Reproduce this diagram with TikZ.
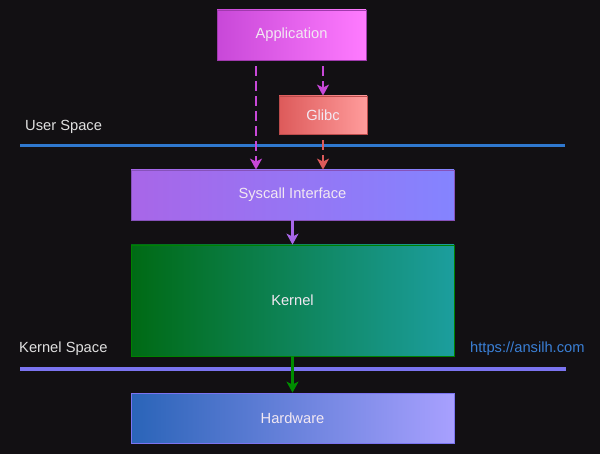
\documentclass[tikz,border=0pt]{standalone}
\usepackage{fontspec}
\setmainfont{Liberation Sans}
\usetikzlibrary{arrows.meta}
\definecolor{bg}{HTML}{121013}
\definecolor{appL}{HTML}{C848D8}
\definecolor{appR}{HTML}{FF7BFF}
\definecolor{glL}{HTML}{DD5A5A}
\definecolor{glR}{HTML}{FF9C9C}
\definecolor{syL}{HTML}{A866E8}
\definecolor{syR}{HTML}{8484FF}
\definecolor{keL}{HTML}{006A14}
\definecolor{keR}{HTML}{1C9E9E}
\definecolor{hwL}{HTML}{2A64B8}
\definecolor{hwR}{HTML}{A8A0FF}
\definecolor{userline}{HTML}{2F78CF}
\definecolor{kernline}{HTML}{7B74F0}
\definecolor{linkc}{HTML}{3A7FD5}
\definecolor{txt}{HTML}{F2E8F2}
\definecolor{lbl}{HTML}{E0E0E0}
\tikzset{
  boxnode/.style={minimum width=#1, inner sep=0pt, text=txt, font=\fontsize{14.7}{17}\selectfont, line width=0.8pt},
  flow/.style={line width=2.2pt, -{Stealth[length=11pt,width=12pt,inset=3pt]}},
  dashflow/.style={flow, dash pattern=on 10pt off 5pt},
  lbltext/.style={text=lbl, font=\fontsize{14.7}{17}\selectfont, inner sep=0pt, anchor=west}
}
\begin{document}
\begin{tikzpicture}[x=1pt,y=-1pt]
\fill[bg] (0,0) rectangle (600,454);
\useasboundingbox (0,0) rectangle (600,454);
% boxes
\node[boxnode=149pt, minimum height=50pt, left color=appL, right color=appR, draw=appL!80!black] (app) at (291.5,35) {Application};
\node[boxnode=88pt, minimum height=38pt, left color=glL, right color=glR, draw=glL!85!black] (glibc) at (323,115) {Glibc};
\node[boxnode=323pt, minimum height=50pt, left color=syL, right color=syR, draw=syL!80!black] (sys) at (292.5,195) {Syscall Interface};
\node[boxnode=323pt, minimum height=111pt, left color=keL, right color=keR, draw=green!50!black] (kern) at (292.5,300.5) {Kernel};
\node[boxnode=323pt, minimum height=50pt, left color=hwL, right color=hwR, draw=kernline] (hw) at (292.5,418) {Hardware};
% space lines
\coordinate (u1) at (20,146);
\coordinate (u2) at (565,146);
\coordinate (k1) at (20,369);
\coordinate (k2) at (566,369);
\draw[userline, line width=3pt] (u1) -- (u2);
\draw[kernline, line width=3.5pt] (k1) -- (k2);
\node[lbltext] (ulab) at (25,127) {User Space};
\node[lbltext] (klab) at (19,349) {Kernel Space};
\node[lbltext, text=linkc] (link) at (470,349) {https://ansilh.com};
% arrows
\draw[dashflow, appL] ([xshift=-35.5pt,yshift=-6pt]app.south) -- ([xshift=-36.5pt]sys.north);
\draw[dashflow, appL] ([xshift=31.5pt,yshift=-6pt]app.south) -- (glibc.north);
\draw[dashflow, glL] ([yshift=-6pt]glibc.south) -- ([xshift=30.5pt]sys.north);
\draw[flow, syL] (sys.south) -- (kern.north);
\draw[flow, green!55!black] (kern.south) -- (hw.north);
\end{tikzpicture}
\end{document}
